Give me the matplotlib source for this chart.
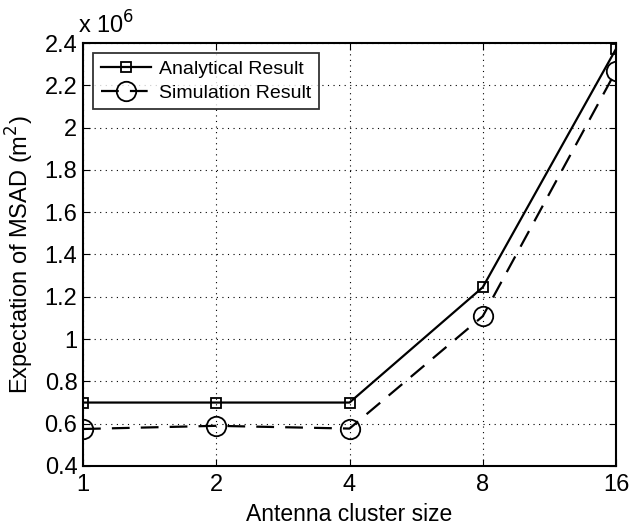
import numpy as np
import matplotlib
matplotlib.use('Agg')
import matplotlib.pyplot as plt

plt.rcParams['font.family'] = ['Liberation Sans', 'DejaVu Sans']

cluster = np.array([1, 2, 4, 8, 16])
analytical = np.array([0.70, 0.70, 0.70, 1.245, 2.372])
simulation = np.array([0.575, 0.59, 0.577, 1.108, 2.268])

fig = plt.figure(figsize=(6.34, 5.28), dpi=100)
ax = fig.add_axes([83/634, 1-466/528, (616-83)/634, (466-43)/528])

ax.plot(cluster, analytical, 'k-s', mfc='none', ms=7.5, lw=1.6, mew=1.3, label='Analytical Result')
ax.plot(cluster, simulation, 'k--o', mfc='none', ms=14, lw=1.6, mew=1.3,
        dashes=(8, 5), label='Simulation Result')

ax.set_xscale('log', base=2)
ax.set_xlim(1, 16)
ax.set_ylim(0.4, 2.4)
ax.set_xticks(cluster)
ax.set_xticklabels([str(c) for c in cluster])
ax.set_yticks(np.arange(0.4, 2.41, 0.2))
ax.set_yticklabels(['0.4', '0.6', '0.8', '1', '1.2', '1.4', '1.6', '1.8', '2', '2.2', '2.4'])
ax.minorticks_off()
ax.tick_params(labelsize=17, direction='in', length=5, top=True, right=True)
ax.tick_params(axis='x', pad=6)
ax.tick_params(axis='y', pad=4)
ax.grid(True, color='k', linestyle=(0, (1, 4)), lw=0.8)
for s in ax.spines.values():
    s.set_linewidth(1.5)

ax.set_xlabel('Antenna cluster size', fontsize=16.5, labelpad=5)
ax.set_ylabel('Expectation of MSAD (m$^2$)', fontsize=17, labelpad=6)
ax.text(-0.01, 1.01, r'x 10$^6$', transform=ax.transAxes, fontsize=17, ha='left', va='bottom')

leg = ax.legend(loc='upper left', fontsize=14, frameon=True, fancybox=False,
                edgecolor='k', borderaxespad=0.5, handlelength=2.6, handletextpad=0.4,
                borderpad=0.4, labelspacing=0.3)
leg.get_frame().set_linewidth(1.3)

fig.savefig('out.png', dpi=100)
